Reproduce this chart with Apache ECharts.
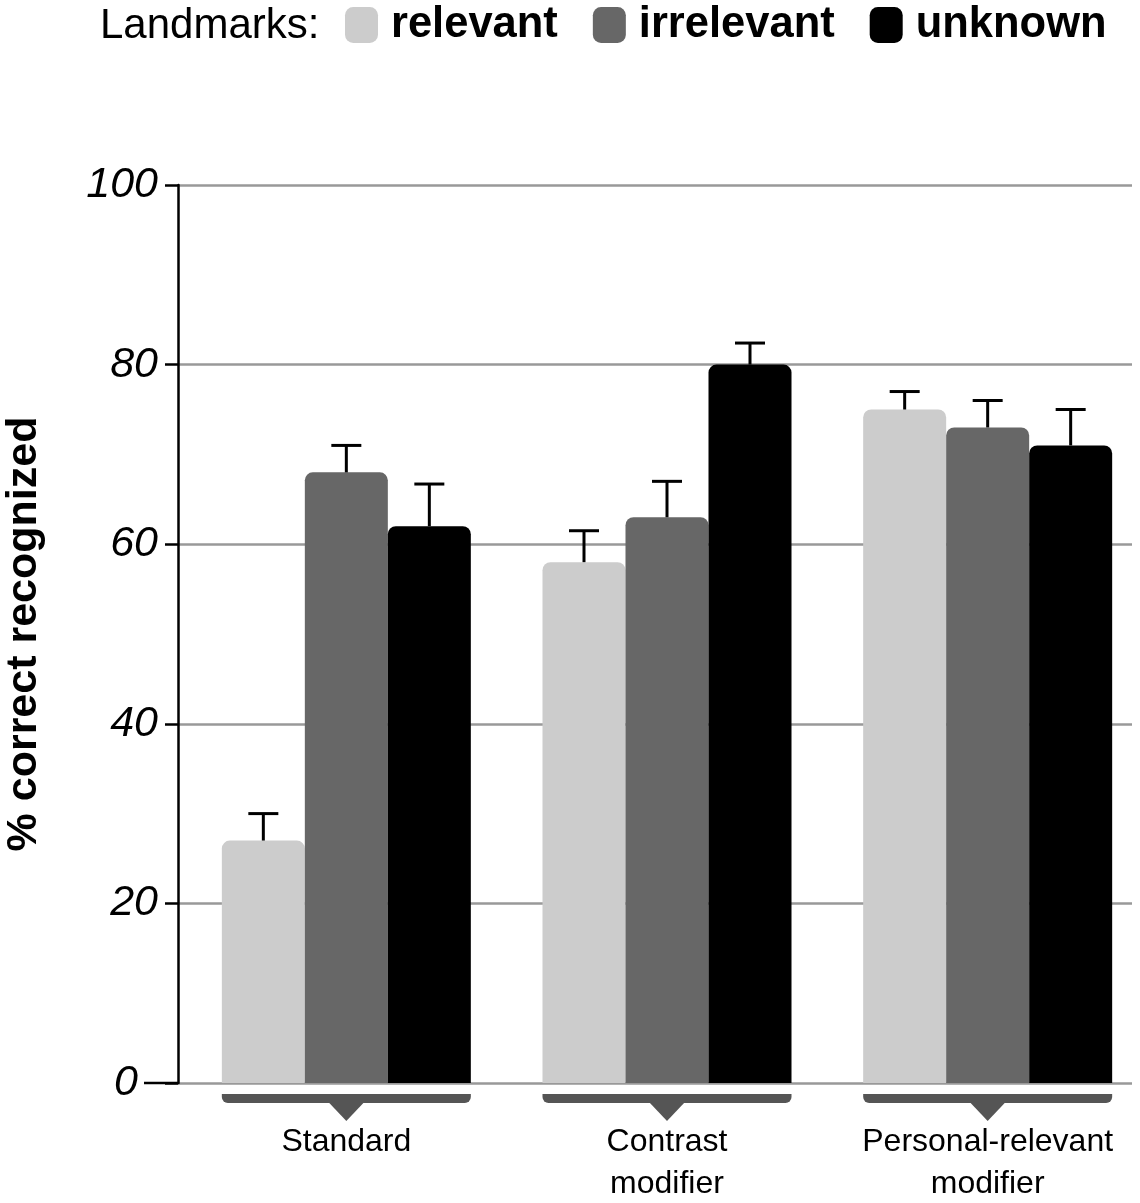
<!DOCTYPE html>
<html>
<head>
<meta charset="utf-8">
<script src="https://cdn.jsdelivr.net/npm/echarts@6/dist/echarts.min.js"></script>
<style>html,body{margin:0;padding:0;background:#fff}#c{width:1140px;height:1203px}</style>
</head>
<body>
<div id="c"></div>
<script>
var categories = ['Standard', 'Contrast\nmodifier', 'Personal-relevant\nmodifier'];
var seriesNames = ['relevant', 'irrelevant', 'unknown'];
var relevant = [27, 58, 75];
var irrelevant = [68, 63, 73];
var unknown = [62, 80, 71];
var relevantErr = [30, 61.5, 77];
var irrelevantErr = [71, 67, 76];
var unknownErr = [66.7, 82.4, 75];
var yTicks = [0, 20, 40, 60, 80, 100];

var colors = ['#cccccc', '#676767', '#000000'];
var FONT = 'Liberation Sans, Arial, Helvetica, sans-serif';
var BAR_W = 83;

var means = [relevant, irrelevant, unknown];
var highs = [relevantErr, irrelevantErr, unknownErr];

var chart = echarts.init(document.getElementById('c'));

var barSeries = seriesNames.map(function (n, i) {
  return {
    name: n, type: 'bar', xAxisIndex: 1, yAxisIndex: 1,
    data: means[i], barWidth: BAR_W, barGap: '0%',
    itemStyle: { color: colors[i], borderRadius: [8, 8, 0, 0] },
    z: 3
  };
});

var errData = [];
for (var s = 0; s < 3; s++) {
  for (var c = 0; c < categories.length; c++) {
    errData.push([c, means[s][c], highs[s][c], s]);
  }
}

var errSeries = {
  type: 'custom', xAxisIndex: 1, yAxisIndex: 1, z: 4,
  data: errData,
  renderItem: function (params, api) {
    var cat = api.value(0), s = api.value(3);
    var p0 = api.coord([cat, api.value(1)]);
    var p1 = api.coord([cat, api.value(2)]);
    var x = p0[0] + (s - 1) * BAR_W;
    return {
      type: 'group',
      children: [
        { type: 'line', shape: { x1: x, y1: p0[1], x2: x, y2: p1[1] }, style: { stroke: '#000', lineWidth: 3 } },
        { type: 'line', shape: { x1: x - 15, y1: p1[1], x2: x + 15, y2: p1[1] }, style: { stroke: '#000', lineWidth: 3 } }
      ]
    };
  }
};

var bracketSeries = {
  type: 'custom', xAxisIndex: 1, yAxisIndex: 1, z: 4, clip: false, silent: true,
  data: categories.map(function (d, i) { return [i, 0]; }),
  renderItem: function (params, api) {
    var p = api.coord([api.value(0), 0]);
    var half = BAR_W * 1.5;
    var y0 = p[1] + 11, y1 = p[1] + 20;
    return {
      type: 'group',
      children: [
        { type: 'rect', shape: { x: p[0] - half, y: y0, width: half * 2, height: y1 - y0, r: [0, 0, 6, 6] }, style: { fill: '#555555' } },
        { type: 'polygon', shape: { points: [[p[0] - 18, y1 - 1], [p[0] + 18, y1 - 1], [p[0], p[1] + 38]] }, style: { fill: '#555555' } }
      ]
    };
  }
};

chart.setOption({
  animation: false,
  textStyle: { fontFamily: FONT },
  title: {
    text: 'Landmarks:', left: 95, top: 0,
    textStyle: { fontFamily: FONT, fontSize: 42, fontWeight: 'normal', color: '#000' }
  },
  legend: {
    data: seriesNames, left: 340, top: -2,
    icon: 'roundRect', itemWidth: 33, itemHeight: 36, itemGap: 35,
    textStyle: { fontFamily: FONT, fontSize: 43.5, fontWeight: 'bold', color: '#000', padding: [0, 0, 0, 8] }
  },
  grid: [
    { left: 178, right: 8, top: 185, height: 898, outerBoundsMode: 'none', containLabel: false },
    { left: 186, width: 962, top: 185, height: 898, outerBoundsMode: 'none', containLabel: false }
  ],
  xAxis: [
    { type: 'value', gridIndex: 0, show: false, min: 0, max: 1 },
    {
      type: 'category', gridIndex: 1, data: categories,
      axisLine: { show: false }, axisTick: { show: false },
      axisLabel: { interval: 0, fontFamily: FONT, fontSize: 32, color: '#000', margin: 38, lineHeight: 42, hideOverlap: false }
    }
  ],
  yAxis: [
    {
      type: 'value', gridIndex: 0, min: 0, max: 100, interval: 20,
      axisLine: { show: true, lineStyle: { color: '#000', width: 2.5 } },
      axisTick: { show: true, length: 13, lineStyle: { color: '#000', width: 2.5 } },
      splitLine: { show: true, lineStyle: { color: '#999999', width: 2.5 } },
      axisLabel: {
        margin: 20, fontFamily: FONT, fontSize: 43, fontStyle: 'italic', color: '#000',
        formatter: function (v) { return yTicks.indexOf(v) === 0 ? '{z|' + v + '}' : String(v); },
        rich: { z: { fontFamily: FONT, fontSize: 43, fontStyle: 'italic', color: '#000', padding: [0, 20, 0, 0] } }
      },
      name: '% correct recognized', nameLocation: 'middle', nameRotate: 90, nameGap: 132,
      nameTextStyle: { fontFamily: FONT, fontSize: 43, fontWeight: 'bold', color: '#000' }
    },
    { type: 'value', gridIndex: 1, min: 0, max: 100, show: false }
  ],
  series: barSeries.concat([errSeries, bracketSeries])
});

var p0 = chart.convertToPixel({ gridIndex: 0 }, [0, 0]);
chart.setOption({
  graphic: [{
    type: 'line', shape: { x1: p0[0] - 34, y1: p0[1], x2: p0[0], y2: p0[1] },
    style: { stroke: '#000', lineWidth: 2.5 }, z: 10
  }]
});
</script>
</body>
</html>
